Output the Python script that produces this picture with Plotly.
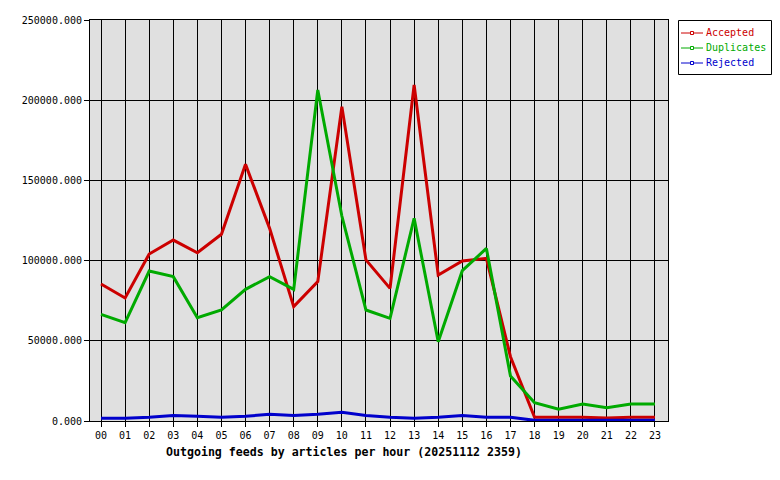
import plotly.graph_objects as go

hours = ["%02d" % h for h in range(24)]
accepted = [85400, 76700, 104100, 112800, 104900, 116400, 160000, 120100, 71300, 86900,
            196000, 100400, 82700, 209500, 91000, 99750, 101400, 40100, 2300, 2300,
            2300, 1800, 2300, 2300]
duplicates = [66500, 61300, 93500, 90000, 64400, 69200, 82100, 90000, 82100, 206400,
              127800, 69200, 64000, 126300, 49400, 93700, 107600, 28000, 11400, 7300,
              10600, 8300, 10600, 10600]
rejected = [1700, 1700, 2300, 3500, 2900, 2300, 2900, 4200, 3500, 4200,
            5400, 3500, 2300, 1700, 2300, 3500, 2300, 2300, 400, 400,
            400, 400, 400, 400]
y_ticks = [0, 50000, 100000, 150000, 200000, 250000]
title_text = "Outgoing feeds by articles per hour (20251112 2359)"

series = [("Accepted", accepted, "#cc0000"),
          ("Duplicates", duplicates, "#00aa00"),
          ("Rejected", rejected, "#0000cc")]

FONT = "DejaVu Sans Mono"
fig = go.Figure()
xi = list(range(24))
for name, vals, col in series:
    fig.add_trace(go.Scatter(x=xi, y=vals, mode="lines", line=dict(color=col, width=3),
                             name=name, showlegend=False, hoverinfo="skip"))

L, R, T, B = 90, 112, 20, 59
W, H = 780, 480
pw = W - L - R
ph = H - T - B


def px(x):
    return (x - L) / pw


def py(y):
    return (H - B - y) / ph


shapes = [dict(type="rect", xref="paper", yref="paper",
               x0=px(678.5), x1=px(771.5), y0=py(20.5), y1=py(74.5),
               line=dict(color="black", width=1), fillcolor="white", layer="above")]
annotations = []
for i, (name, vals, col) in enumerate(series):
    yy = 33 + 15 * i
    shapes.append(dict(type="line", xref="paper", yref="paper",
                       x0=px(681), x1=px(703), y0=py(yy), y1=py(yy),
                       line=dict(color=col, width=1), layer="above"))
    shapes.append(dict(type="rect", xref="paper", yref="paper",
                       x0=px(690.5), x1=px(693.5), y0=py(yy + 1.5), y1=py(yy - 1.5),
                       line=dict(color=col, width=1), fillcolor="white", layer="above"))
    annotations.append(dict(text=name, xref="paper", yref="paper", x=px(704), y=py(yy),
                            xanchor="left", yanchor="middle", showarrow=False,
                            font=dict(family=FONT, size=10, color=col)))

annotations.append(dict(text="<b>%s</b>" % title_text, xref="paper", yref="paper",
                        x=px(164), y=0, xanchor="left", yanchor="middle",
                        yshift=-31, showarrow=False,
                        font=dict(family=FONT, size=11.6, color="black")))

fig.update_layout(
    width=W, height=H,
    margin=dict(l=L, r=R, t=T, b=B, autoexpand=False),
    paper_bgcolor="white", plot_bgcolor="#e0e0e0",
    font=dict(family=FONT, size=10, color="black"),
    showlegend=False,
    xaxis=dict(tickmode="array", tickvals=xi, ticktext=hours,
               range=[-0.457, 23.54], showgrid=True, gridcolor="black", gridwidth=1,
               showline=True, linecolor="black", linewidth=1, mirror=True,
               ticks="outside", ticklen=5, tickcolor="black", zeroline=False,
               tickfont=dict(family=FONT, size=10)),
    yaxis=dict(tickmode="array", tickvals=y_ticks, tickformat=".3f",
               range=[0, 250000], showgrid=True, gridcolor="black", gridwidth=1,
               showline=True, linecolor="black", linewidth=1, mirror=True,
               ticks="outside", ticklen=5, tickcolor="black", zeroline=False,
               tickfont=dict(family=FONT, size=10)),
    shapes=shapes,
    annotations=annotations,
)
fig.write_html("out.html")
